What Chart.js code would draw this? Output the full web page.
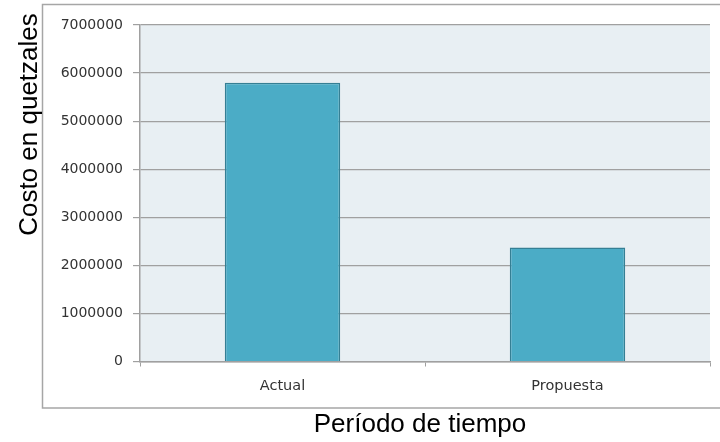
<!DOCTYPE html>
<html>
<head>
<meta charset="utf-8">
<script src="https://cdn.jsdelivr.net/npm/chart.js@4"></script>
<style>
  html, body { margin: 0; padding: 0; background: #fff; }
  #wrap { width: 720px; height: 442px; }
</style>
</head>
<body>
<div id="wrap"><canvas id="myChart"></canvas></div>
<script>
const categories = ['Actual', 'Propuesta'];
const costValues = [5800000, 2370000];
const yTicks = [0, 1000000, 2000000, 3000000, 4000000, 5000000, 6000000, 7000000];
const yTitle = 'Costo en quetzales';
const xTitle = 'Período de tiempo';

// frame, plot background and axis titles
const decorations = {
    id: 'decorations',
    beforeDraw(chart) {
        const ctx = chart.ctx;
        const area = chart.chartArea;
        ctx.save();
        ctx.strokeStyle = '#a6a6a6';
        ctx.lineWidth = 1.5;
        ctx.beginPath();
        ctx.moveTo(725, 4.5);
        ctx.lineTo(42.5, 4.5);
        ctx.lineTo(42.5, 408);
        ctx.lineTo(725, 408);
        ctx.stroke();
        ctx.fillStyle = '#e8eff3';
        ctx.fillRect(area.left, area.top, area.right - area.left, area.bottom - area.top);
        ctx.restore();
    },
    afterDraw(chart) {
        const ctx = chart.ctx;
        ctx.save();
        ctx.fillStyle = '#000';
        ctx.font = '26px "Liberation Sans", Arial, sans-serif';
        ctx.textAlign = 'center';
        ctx.textBaseline = 'alphabetic';
        ctx.fillText(xTitle, 420, 432);
        ctx.translate(37, 124.5);
        ctx.rotate(-Math.PI / 2);
        ctx.fillText(yTitle, 0, 0);
        ctx.restore();
    }
};

const chart = new Chart(document.getElementById('myChart').getContext('2d'), {
    type: 'bar',
    data: {
        labels: categories,
        datasets: [{
            data: costValues,
            backgroundColor: '#4bacc6',
            borderColor: '#357f94',
            borderWidth: 1.5,
            barPercentage: 0.405,
            categoryPercentage: 1
        }]
    },
    options: {
        responsive: true,
        maintainAspectRatio: false,
        animation: false,
        layout: {
            padding: { top: 25, right: 10, bottom: 0, left: 0 }
        },
        plugins: {
            legend: { display: false },
            tooltip: { enabled: false }
        },
        scales: {
            x: {
                offset: true,
                afterFit: scale => { scale.height = 80.5; },
                grid: {
                    offset: true,
                    drawOnChartArea: false,
                    tickLength: 5,
                    color: '#a0a0a0'
                },
                border: { color: '#a0a0a0', width: 1.5 },
                ticks: {
                    padding: 11,
                    color: '#333',
                    font: { family: '"DejaVu Sans", Verdana, sans-serif', size: 14.5 }
                }
            },
            y: {
                min: 0,
                max: 7000000,
                afterFit: scale => { scale.width = 140; },
                afterBuildTicks: scale => { scale.ticks = yTicks.map(v => ({ value: v })); },
                grid: {
                    color: '#a0a0a0',
                    lineWidth: 1.2,
                    tickLength: 7
                },
                border: { color: '#a0a0a0', width: 1.5 },
                ticks: {
                    padding: 10,
                    color: '#333',
                    font: { family: '"DejaVu Sans", Verdana, sans-serif', size: 14 },
                    callback: v => String(v)
                }
            }
        }
    },
    plugins: [decorations]
});
</script>
</body>
</html>
